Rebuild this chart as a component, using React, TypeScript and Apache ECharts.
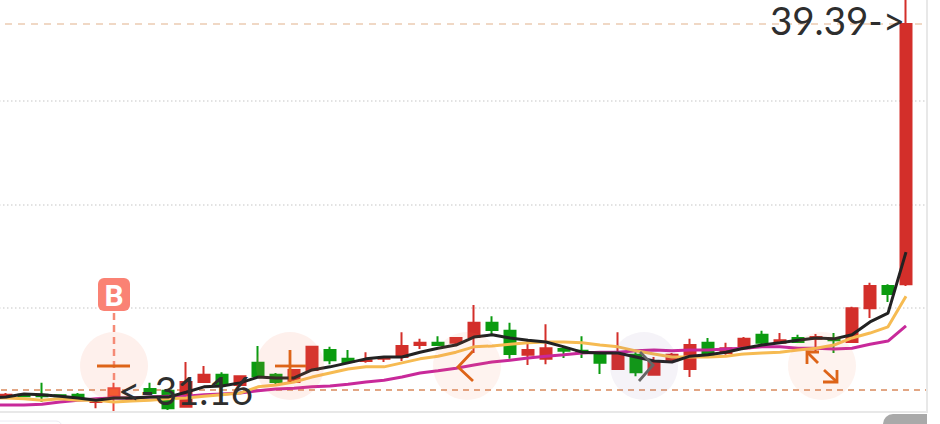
import React, { useEffect, useRef } from "react";
import * as echarts from "echarts";

// [open, close, low, high]; the first candle lies just left of the picture's edge
const candles: number[][] = [
  [30.98, 31.0, 30.96, 31.02],
  [31.02, 31.05, 30.96, 31.09], [31.05, 31.02, 31.0, 31.07], [31.05, 31.02, 30.89, 31.32], [31.04, 31.02, 31.0, 31.05],
  [31.05, 31.0, 30.98, 31.09], [30.89, 30.91, 30.75, 30.98], [31.02, 31.2, 30.66, 31.32], [30.96, 30.98, 30.93, 31.02],
  [31.18, 31.09, 31.07, 31.32], [31.14, 30.75, 30.71, 31.16], [30.78, 31.34, 30.78, 31.79], [31.34, 31.5, 31.32, 31.7],
  [31.5, 31.27, 31.2, 31.56], [31.27, 31.47, 31.23, 31.49], [31.77, 31.47, 31.45, 32.15], [31.5, 31.34, 31.29, 31.54],
  [31.34, 31.61, 31.32, 31.63], [31.61, 32.13, 31.61, 32.13], [32.06, 31.83, 31.74, 32.13], [31.86, 31.79, 31.77, 32.06],
  [31.81, 31.83, 31.77, 32.01], [31.86, 31.88, 31.79, 31.92], [31.9, 32.15, 31.81, 32.46], [32.17, 32.22, 32.08, 32.31],
  [32.22, 32.17, 32.15, 32.37], [32.22, 32.33, 32.19, 32.35], [32.35, 32.67, 31.99, 33.07], [32.67, 32.51, 32.42, 32.82],
  [32.49, 31.97, 31.86, 32.67], [31.95, 32.06, 31.72, 32.26], [31.86, 32.1, 31.74, 32.64], [32.08, 32.04, 31.88, 32.13],
  [32.04, 32.01, 31.88, 32.37], [31.97, 31.77, 31.52, 32.01], [31.63, 32.01, 31.63, 32.46], [31.95, 31.56, 31.47, 32.01],
  [31.5, 31.81, 31.5, 31.9], [31.83, 31.95, 31.77, 31.99], [31.63, 32.17, 31.45, 32.31], [32.22, 31.95, 31.9, 32.33],
  [31.99, 32.1, 31.95, 32.22], [32.1, 32.31, 32.08, 32.35], [32.4, 32.22, 32.17, 32.49], [32.22, 32.28, 32.22, 32.44],
  [32.33, 32.24, 32.22, 32.4], [32.31, 32.35, 32.01, 32.42], [32.31, 32.28, 31.99, 32.44], [32.24, 33.0, 32.22, 33.03],
  [33.0, 33.5, 32.78, 33.57], [33.5, 33.32, 33.14, 33.54], [33.54, 39.39, 33.5, 40.2],
];
const maShort = [
  30.98, 31.0, 31.07, 31.05, 31.02, 30.98, 30.93, 30.98, 30.98, 31.0, 31.0, 31.11, 31.23, 31.25, 31.32, 31.45, 31.43, 31.43,
  31.61, 31.68, 31.77, 31.86, 31.9, 31.9, 32.01, 32.1, 32.17, 32.35, 32.4, 32.33, 32.28, 32.24, 32.13, 32.01, 31.99,
  31.99, 31.9, 31.81, 31.79, 31.92, 31.95, 32.01, 32.1, 32.17, 32.22, 32.28, 32.33, 32.31, 32.4, 32.69, 32.89, 34.26,
];
const maMid = [
  30.98, 30.98, 30.96, 30.93, 30.96, 30.93, 30.93, 30.89, 30.91, 30.93, 30.96, 30.98, 31.02, 31.05, 31.09, 31.23, 31.27, 31.34,
  31.45, 31.54, 31.63, 31.68, 31.68, 31.77, 31.86, 31.92, 32.01, 32.13, 32.15, 32.19, 32.22, 32.24, 32.24, 32.22, 32.17,
  32.13, 32.04, 31.97, 31.9, 31.9, 31.9, 31.92, 31.97, 31.99, 32.01, 32.06, 32.1, 32.17, 32.33, 32.44, 32.58, 33.27,
];
const maLong = [
  30.82, 30.82, 30.82, 30.84, 30.89, 30.93, 30.96, 30.98, 30.98, 31.0, 31.02, 31.02, 31.05, 31.07, 31.09, 31.14, 31.18, 31.2,
  31.23, 31.25, 31.29, 31.34, 31.38, 31.45, 31.54, 31.59, 31.65, 31.72, 31.79, 31.83, 31.88, 31.92, 31.95, 31.99, 32.01,
  32.01, 32.04, 32.06, 32.04, 32.06, 32.06, 32.08, 32.1, 32.13, 32.13, 32.1, 32.1, 32.08, 32.1, 32.19, 32.26, 32.6,
];
const categories = [...candles.map((_, i) => String(i + 1)), ""];
const dottedLevels = [33.0, 35.32, 37.66];
const highValue = 39.39;
const lowValue = 31.16;
const highIndex = 51;
const lowIndex = 7;
const yMin = 30.687;
const yMax = 39.931;

const ORANGE = "#dd6418";
const OFFSET = 21;

function stroke(color: string, width = 2.8) {
  return { stroke: color, lineWidth: width, fill: "none", lineCap: "butt" as const, lineJoin: "miter" as const };
}

export default function App() {
  const ref = useRef<HTMLDivElement>(null);
  useEffect(() => {
    document.body.style.margin = "0";
    document.body.style.background = "#fff";
    document.body.style.overflow = "hidden";
    const chart = echarts.init(ref.current!, null, { renderer: "svg" });
    const line = (data: number[], color: string, z: number) => ({
      type: "line",
      data,
      showSymbol: false,
      symbol: "none",
      z,
      lineStyle: { color, width: 3 },
      silent: true,
    });
    const bigLabel = {
      show: true,
      color: "#2e2e2e",
      fontFamily: "Lato",
      fontSize: 38.5,
      lineHeight: 34,
    };
    const circle = (cx: number, fill: string) => ({
      type: "circle",
      z: 20,
      shape: { cx, cy: 366, r: 34 },
      style: { fill },
    });
    const poly = (points: number[][], color = ORANGE) => ({
      type: "polyline",
      z: 21,
      shape: { points },
      style: stroke(color),
    });
    const candleData = candles.map((value, i) =>
      i === lowIndex
        ? { value, itemStyle: { color: "#f4582f", borderColor: "#e9473a" } }
        : { value },
    );
    chart.setOption({
      animation: false,
      backgroundColor: "#fff",
      grid: { left: 0, top: 0, width: 954, height: 411 },
      xAxis: { type: "category", data: categories, show: false, boundaryGap: true },
      yAxis: { type: "value", min: yMin, max: yMax, show: false, splitLine: { show: false } },
      series: [
        {
          type: "candlestick",
          data: candleData,
          barWidth: 11,
          z: 3,
          itemStyle: {
            color: "#d32f2a",
            color0: "#0b9b10",
            borderColor: "#d32f2a",
            borderColor0: "#0b9b10",
            borderWidth: 2,
          },
          markLine: {
            silent: true,
            symbol: "none",
            label: { show: false },
            animation: false,
            z: 1,
            data: [
              ...dottedLevels.map((yAxis) => ({
                yAxis,
                lineStyle: { color: "#d9d9d9", type: [1.5, 2.5], width: 1.5 },
              })),
              { yAxis: highValue, lineStyle: { color: "#eccbb2", type: [7, 6], width: 1.5 } },
              { yAxis: lowValue, lineStyle: { color: "#e2a684", type: [6, 5], width: 1.8 } },
            ],
          },
        },
        line(maLong, "#c8299a", 4),
        line(maMid, "#f6bb52", 5),
        {
          ...line(maShort, "#222222", 6),
          markPoint: {
            silent: true,
            symbol: "circle",
            symbolSize: 0,
            z: 30,
            data: [
              {
                coord: [highIndex, highValue],
                label: { ...bigLabel, position: "left", distance: 1, offset: [0, -4], formatter: `${highValue}->` },
              },
              {
                coord: [lowIndex, lowValue],
                label: { ...bigLabel, position: "right", distance: 4, offset: [0, 0], formatter: `<-${lowValue}` },
              },
            ],
          },
        },
      ],
      graphic: [
        {
          type: "group",
          x: OFFSET,
          y: 0,
          children: [
            { type: "rect", z: 19, shape: { x: 928, y: 0, width: 12, height: 424 }, style: { fill: "#fff" } },
            { type: "rect", z: 19, shape: { x: 926, y: 0, width: 2, height: 412 }, style: { fill: "#e8e8e8" } },
            { type: "rect", z: 19, shape: { x: 0, y: 411, width: 928, height: 2 }, style: { fill: "#e8e8e8" } },
            { type: "rect", z: 19, shape: { x: 883, y: 414, width: 44, height: 14, r: [10, 0, 0, 0] }, style: { fill: "#a9a9a9" } },
            { type: "rect", z: 19, shape: { x: -8, y: 421, width: 70, height: 12, r: 6 }, style: { fill: "#fff", stroke: "#eceaf2", lineWidth: 1 } },
            circle(114, "rgba(248,120,80,0.11)"),
            circle(290, "rgba(248,120,80,0.11)"),
            circle(467, "rgba(248,120,80,0.09)"),
            circle(644, "rgba(120,90,150,0.07)"),
            circle(822, "rgba(248,120,80,0.09)"),
            {
              type: "line", z: 21, shape: { x1: 114, y1: 313, x2: 114, y2: 384 },
              style: { stroke: "#f58a76", lineWidth: 2.5, lineDash: [7, 5] },
            },
            { type: "rect", z: 22, shape: { x: 98, y: 278, width: 32, height: 33, r: 6 }, style: { fill: "#fa8274" } },
            {
              type: "text", z: 23, x: 114, y: 295,
              style: { text: "B", fill: "#fff", font: "bold 30px Roboto", align: "center", verticalAlign: "middle" },
            },
            poly([[97, 366], [130, 366]]),
            poly([[275, 366], [306, 366]]),
            poly([[290, 350], [290, 382]]),
            poly([[473, 351], [458, 367], [473, 381]]),
            poly([[640, 352], [653, 365], [639, 381]], "#666666"),
            poly([[807, 364], [807, 352], [819, 352]]),
            poly([[807, 352], [818, 363]]),
            poly([[837, 370], [837, 382], [823, 382]]),
            poly([[824, 370], [837, 382]]),
          ],
        },
      ],
    });
    return () => chart.dispose();
  }, []);
  return <div ref={ref} style={{ position: "fixed", left: -OFFSET, top: 0, width: 940 + OFFSET, height: 424 }} />;
}
